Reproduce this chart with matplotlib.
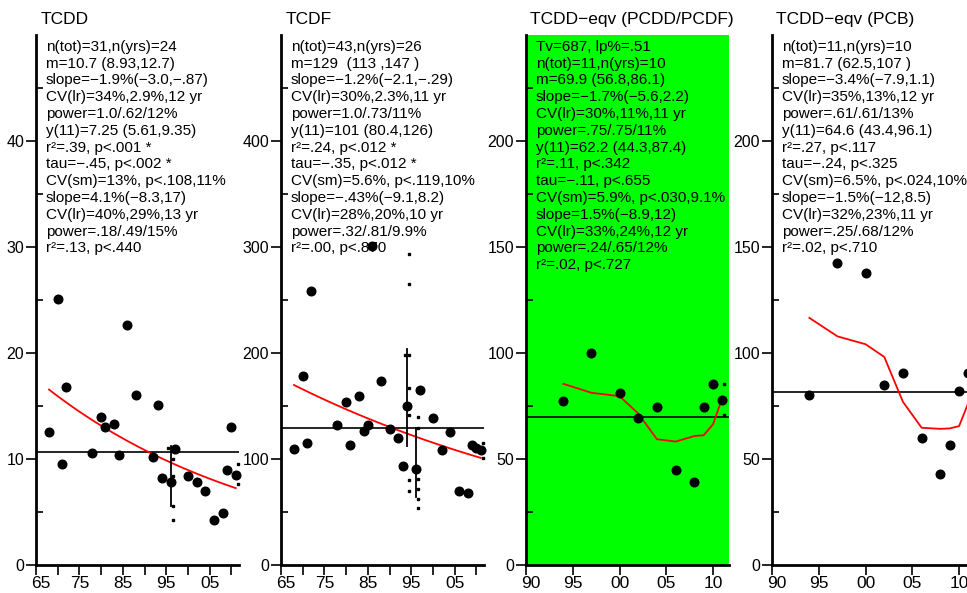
import matplotlib
matplotlib.use('Agg')
import matplotlib.pyplot as plt
import numpy as np
from matplotlib.transforms import offset_copy, ScaledTranslation
from matplotlib.ticker import FixedLocator, MultipleLocator, FuncFormatter

plt.rcParams['font.family'] = ['Liberation Sans', 'DejaVu Sans']

W, H = 967, 593

# ---------------- data ----------------
titles = ["TCDD", "TCDF", "TCDD\u2212eqv (PCDD/PCDF)", "TCDD\u2212eqv (PCB)"]

tcdd_years = [1968, 1970, 1971, 1972, 1978, 1980, 1981, 1983, 1984, 1986, 1988, 1992,
              1993, 1994, 1996, 1997, 2000, 2002, 2004, 2006, 2008, 2009, 2010, 2011]
tcdd_values = [12.55, 25.1, 9.5, 16.75, 10.6, 14.0, 13.0, 13.3, 10.35, 22.6, 16.05, 10.2,
               15.05, 8.2, 7.8, 10.95, 8.4, 7.8, 7.0, 4.25, 4.95, 9.0, 13.05, 8.45]
tcdd_sample_years = [1995, 1996, 1996, 1996, 1996, 2011, 2011]
tcdd_sample_values = [11.0, 10.0, 8.4, 5.6, 4.2, 9.5, 7.6]
tcdd_int_years = [1996]
tcdd_int_lo = [5.6]
tcdd_int_hi = [11.2]
tcdd_mean = 10.7
tcdd_y11 = 7.25
tcdd_slope_pct = -1.9

tcdf_years = [1968, 1970, 1971, 1972, 1978, 1980, 1981, 1983, 1984, 1985, 1986, 1988, 1990,
              1992, 1993, 1994, 1996, 1997, 2000, 2002, 2004, 2006, 2008, 2009, 2010, 2011]
tcdf_values = [109.3, 178.6, 115.5, 258.1, 131.6, 153.5, 112.7, 159.8, 125.9, 131.6, 301.0, 173.9,
               127.8, 119.6, 93.2, 150.4, 90.1, 165.1, 138.5, 108.9, 125.6, 69.4, 68.1, 112.7,
               110.5, 108.0]
tcdf_sample_years = [1993, 1994, 1994, 1994, 1994, 1994, 1994, 1994,
                     1996, 1996, 1996, 1996, 1996, 1996, 2011, 2011]
tcdf_sample_values = [198.0, 293.4, 265.4, 198.1, 167.3, 141.2, 80.2, 70.1,
                      139.9, 129.5, 81.1, 71.4, 62.0, 53.5, 115.4, 100.6]
tcdf_int_years = [1994, 1996]
tcdf_int_lo = [112.3, 64.5]
tcdf_int_hi = [203.5, 129.0]
tcdf_mean = 129
tcdf_y11 = 101
tcdf_slope_pct = -1.2

pcdd_years = [1994, 1997, 2000, 2002, 2004, 2006, 2008, 2009, 2010, 2011]
pcdd_values = [77.1, 100.0, 81.3, 69.2, 74.3, 44.9, 38.9, 74.3, 85.2, 77.6]
pcdd_smooth = [85.4, 81.2, 79.6, 71.4, 59.3, 58.2, 60.8, 61.2, 66.4, 79.0]
pcdd_sample_years = [2011, 2011]
pcdd_sample_values = [85.2, 70.8]
pcdd_mean = 69.9

pcb_years = [1994, 1997, 2000, 2002, 2004, 2006, 2008, 2009, 2010, 2011]
pcb_values = [80.1, 142.5, 137.8, 85.1, 90.4, 59.7, 42.9, 56.4, 82.1, 90.7]
pcb_smooth = [116.5, 107.8, 104.1, 98.1, 76.9, 64.7, 64.2, 64.4, 65.5, 76.6]
pcb_mean = 81.7

stats_tcdd = ["n(tot)=31,n(yrs)=24", "m=10.7 (8.93,12.7)", "slope=\u22121.9%(\u22123.0,\u2212.87)",
              "CV(lr)=34%,2.9%,12 yr", "power=1.0/.62/12%", "y(11)=7.25 (5.61,9.35)",
              "r\u00b2=.39, p<.001 *", "tau=\u2212.45, p<.002 *", "CV(sm)=13%, p<.108,11%",
              "slope=4.1%(\u22128.3,17)", "CV(lr)=40%,29%,13 yr", "power=.18/.49/15%",
              "r\u00b2=.13, p<.440"]
stats_tcdf = ["n(tot)=43,n(yrs)=26", "m=129  (113 ,147 )", "slope=\u22121.2%(\u22122.1,\u2212.29)",
              "CV(lr)=30%,2.3%,11 yr", "power=1.0/.73/11%", "y(11)=101 (80.4,126)",
              "r\u00b2=.24, p<.012 *", "tau=\u2212.35, p<.012 *", "CV(sm)=5.6%, p<.119,10%",
              "slope=\u2212.43%(\u22129.1,8.2)", "CV(lr)=28%,20%,10 yr", "power=.32/.81/9.9%",
              "r\u00b2=.00, p<.870"]
stats_pcdd = ["Tv=687, lp%=.51", "n(tot)=11,n(yrs)=10", "m=69.9 (56.8,86.1)",
              "slope=\u22121.7%(\u22125.6,2.2)", "CV(lr)=30%,11%,11 yr", "power=.75/.75/11%",
              "y(11)=62.2 (44.3,87.4)", "r\u00b2=.11, p<.342", "tau=\u2212.11, p<.655",
              "CV(sm)=5.9%, p<.030,9.1%", "slope=1.5%(\u22128.9,12)", "CV(lr)=33%,24%,12 yr",
              "power=.24/.65/12%", "r\u00b2=.02, p<.727"]
stats_pcb = ["n(tot)=11,n(yrs)=10", "m=81.7 (62.5,107 )", "slope=\u22123.4%(\u22127.9,1.1)",
             "CV(lr)=35%,13%,12 yr", "power=.61/.61/13%", "y(11)=64.6 (43.4,96.1)",
             "r\u00b2=.27, p<.117", "tau=\u2212.24, p<.325", "CV(sm)=6.5%, p<.024,10%",
             "slope=\u22121.5%(\u221212,8.5)", "CV(lr)=32%,23%,11 yr", "power=.25/.68/12%",
             "r\u00b2=.02, p<.710"]

# ---------------- figure ----------------
fig = plt.figure(figsize=(W / 100, H / 100), dpi=100)

ax_left_px = [36, 281, 526, 772]
ax_w_px = 203
ax_top_px, ax_bot_px = 35, 565

panels = [
    dict(years=tcdd_years, values=tcdd_values, sy=tcdd_sample_years, sv=tcdd_sample_values,
         iy=tcdd_int_years, ilo=tcdd_int_lo, ihi=tcdd_int_hi, mean=tcdd_mean,
         trend=(tcdd_y11, tcdd_slope_pct), smooth=None, stats=stats_tcdd,
         xlim=(1965, 2011.75), ylim=(0, 49.98), ymaj=10, ymin=5, bg='white', xstyle='long'),
    dict(years=tcdf_years, values=tcdf_values, sy=tcdf_sample_years, sv=tcdf_sample_values,
         iy=tcdf_int_years, ilo=tcdf_int_lo, ihi=tcdf_int_hi, mean=tcdf_mean,
         trend=(tcdf_y11, tcdf_slope_pct), smooth=None, stats=stats_tcdf,
         xlim=(1965, 2011.75), ylim=(0, 499.8), ymaj=100, ymin=50, bg='white', xstyle='long'),
    dict(years=pcdd_years, values=pcdd_values, sy=pcdd_sample_years, sv=pcdd_sample_values,
         iy=[], ilo=[], ihi=[], mean=pcdd_mean, trend=None, smooth=pcdd_smooth,
         stats=stats_pcdd, xlim=(1990, 2011.7), ylim=(0, 249.9), ymaj=50, ymin=25,
         bg='#00ff00', xstyle='short'),
    dict(years=pcb_years, values=pcb_values, sy=[], sv=[], iy=[], ilo=[], ihi=[],
         mean=pcb_mean, trend=None, smooth=pcb_smooth, stats=stats_pcb,
         xlim=(1990, 2011.7), ylim=(0, 249.9), ymaj=50, ymin=25, bg='white', xstyle='short'),
]

yr_fmt = FuncFormatter(lambda v, p: "%02d" % (int(round(v)) % 100))

for i, p in enumerate(panels):
    lx = ax_left_px[i]
    ax = fig.add_axes([lx / W, 1 - ax_bot_px / H, ax_w_px / W, (ax_bot_px - ax_top_px) / H])
    ax.set_facecolor(p['bg'])
    ax.set_xlim(*p['xlim'])
    ax.set_ylim(*p['ylim'])
    for s in ('top', 'right'):
        ax.spines[s].set_visible(False)
    for s in ('left', 'bottom'):
        ax.spines[s].set_linewidth(2.0)

    # ticks
    ax.yaxis.set_major_locator(MultipleLocator(p['ymaj']))
    ax.yaxis.set_minor_locator(MultipleLocator(p['ymin']))
    if p['xstyle'] == 'long':
        ax.xaxis.set_major_locator(FixedLocator(list(range(1965, 2012, 10))))
        ax.xaxis.set_minor_locator(FixedLocator(list(range(1970, 2012, 10))))
    else:
        ax.xaxis.set_major_locator(FixedLocator(list(range(1990, 2012, 5))))
    ax.xaxis.set_major_formatter(yr_fmt)
    ax.tick_params(axis='y', which='major', direction='out', length=7, width=1.2,
                   labelsize=11.5, pad=1.5)
    ax.tick_params(axis='y', which='minor', direction='in', length=5, width=1.2)
    ax.tick_params(axis='x', which='both', direction='out', length=7, width=1.2,
                   labelsize=12.5, pad=1.0)
    # first year label sits a little right of the axis corner
    first = ax.xaxis.get_major_ticks()[0].label1
    first.set_transform(first.get_transform() + ScaledTranslation(5 / 100, 0, fig.dpi_scale_trans))

    # stats text (behind points)
    tx = (lx + 9.8) / W
    for k, line in enumerate(p['stats']):
        base_px = 50.8 + k * 16.8
        ax.text(tx, 1 - base_px / H, line, transform=fig.transFigure, fontsize=11,
                va='baseline', ha='left', zorder=1, clip_on=False)

    # title
    fig.text((lx + 4.5) / W, 1 - 24 / H, titles[i], fontsize=12.5, va='baseline', ha='left')

    # mean line
    ax.axhline(p['mean'], color='black', lw=1.2, zorder=2)

    # trend / smooth
    if p['trend'] is not None:
        y11, slope = p['trend']
        ty = np.arange(min(p['years']), 2011.01, 0.5)
        tv = y11 * (1 + slope / 100.0) ** (ty - 2011)
        ax.plot(ty, tv, color='red', lw=1.3, zorder=3)
    if p['smooth'] is not None:
        ax.plot(p['years'], p['smooth'], color='red', lw=1.3, zorder=3)

    # intervals
    for yv, lo, hi in zip(p['iy'], p['ilo'], p['ihi']):
        ax.plot([yv, yv], [lo, hi], color='black', lw=1.3, zorder=3)

    # individual samples (small dots slightly right)
    if len(p['sy']):
        tr = offset_copy(ax.transData, fig=fig, x=2, y=0, units='dots')
        ax.plot(p['sy'], p['sv'], linestyle='none', marker='s', ms=1.6, color='black',
                transform=tr, zorder=4, clip_on=False)

    # yearly means
    ax.plot(p['years'], p['values'], linestyle='none', marker='o', ms=6.2, color='black',
            zorder=5, clip_on=False)

fig.savefig('out.png', dpi=100)
